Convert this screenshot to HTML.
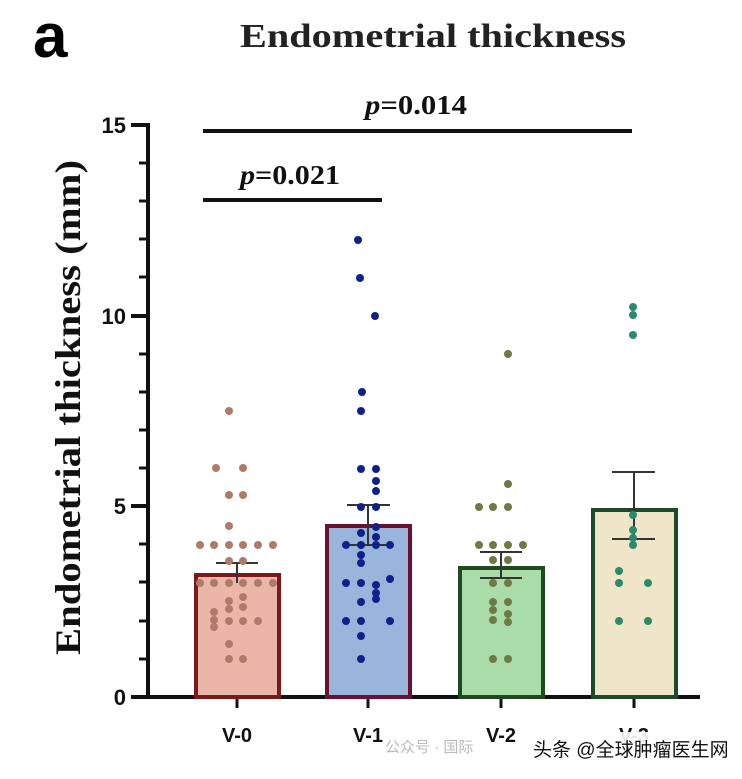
<!DOCTYPE html><html><head><meta charset="utf-8"><style>body{margin:0;background:#fff}</style></head><body>
<svg width="742" height="774" xmlns="http://www.w3.org/2000/svg">
<rect width="742" height="774" fill="#fff"/>
<text x="33" y="57" font-family="Liberation Sans" font-weight="bold" font-size="62">a</text>
<text x="240" y="47" textLength="386" lengthAdjust="spacingAndGlyphs" font-family="Liberation Serif" font-weight="bold" font-size="34" fill="#222">Endometrial thickness</text>
<text transform="translate(80,655) rotate(-90)" textLength="495" lengthAdjust="spacingAndGlyphs" font-family="Liberation Serif" font-weight="bold" font-size="36" fill="#111">Endometrial thickness (mm)</text>
<g stroke="#111" stroke-width="4">
<line x1="148" y1="123" x2="148" y2="699"/><line x1="146" y1="697" x2="700" y2="697"/>
<line x1="131" y1="125" x2="148" y2="125"/><line x1="131" y1="316" x2="148" y2="316"/><line x1="131" y1="506" x2="148" y2="506"/><line x1="131" y1="697" x2="148" y2="697"/>
</g>
<g stroke="#111" stroke-width="3">
<line x1="139" y1="163" x2="148" y2="163"/><line x1="139" y1="201" x2="148" y2="201"/><line x1="139" y1="239" x2="148" y2="239"/><line x1="139" y1="277" x2="148" y2="277"/>
<line x1="139" y1="354" x2="148" y2="354"/><line x1="139" y1="392" x2="148" y2="392"/><line x1="139" y1="430" x2="148" y2="430"/><line x1="139" y1="468" x2="148" y2="468"/>
<line x1="139" y1="544" x2="148" y2="544"/><line x1="139" y1="582" x2="148" y2="582"/><line x1="139" y1="621" x2="148" y2="621"/><line x1="139" y1="659" x2="148" y2="659"/>
<line x1="237" y1="697" x2="237" y2="708"/><line x1="368" y1="697" x2="368" y2="708"/><line x1="501" y1="697" x2="501" y2="708"/><line x1="634" y1="697" x2="634" y2="708"/>
</g>
<g font-family="Liberation Sans" font-weight="bold" font-size="22" text-anchor="end" fill="#111">
<text x="126" y="133">15</text><text x="126" y="324">10</text><text x="126" y="514">5</text><text x="126" y="705">0</text>
</g>
<g font-family="Liberation Sans" font-weight="bold" font-size="20" text-anchor="middle" fill="#111">
<text x="237" y="742">V-0</text><text x="368" y="742">V-1</text><text x="501" y="742">V-2</text><text x="634" y="742">V-3</text>
</g>
<g stroke-width="4">
<rect x="196" y="575" width="83" height="122" fill="#e9b6a9" stroke="#7a1a1a"/>
<rect x="327" y="526" width="83" height="171" fill="#9ab5dc" stroke="#6a1030"/>
<rect x="460" y="568" width="83" height="129" fill="#aadcaa" stroke="#1e4a1e"/>
<rect x="593" y="510" width="83" height="187" fill="#efe5c9" stroke="#1e4a2a"/>
</g>
<g stroke="#333" stroke-width="2">
<line x1="237" y1="563" x2="237" y2="583"/><line x1="216" y1="563" x2="258" y2="563"/>
<line x1="368" y1="505" x2="368" y2="545"/><line x1="347" y1="505" x2="390" y2="505"/><line x1="347" y1="545" x2="390" y2="545"/>
<line x1="501" y1="552" x2="501" y2="578"/><line x1="480" y1="552" x2="522" y2="552"/><line x1="480" y1="578" x2="522" y2="578"/>
<line x1="634" y1="472" x2="634" y2="539"/><line x1="612" y1="472" x2="655" y2="472"/><line x1="612" y1="539" x2="655" y2="539"/>
</g>
<g fill="#b07a68">
<circle cx="229" cy="411" r="4"/><circle cx="216" cy="468" r="4"/><circle cx="243" cy="468" r="4"/><circle cx="229" cy="495" r="4"/><circle cx="243" cy="495" r="4"/><circle cx="229" cy="526" r="4"/>
<circle cx="200" cy="545" r="4"/><circle cx="214" cy="545" r="4"/><circle cx="229" cy="545" r="4"/><circle cx="243" cy="545" r="4"/><circle cx="258" cy="545" r="4"/><circle cx="273" cy="545" r="4"/>
<circle cx="229" cy="561" r="4"/><circle cx="243" cy="561" r="4"/>
<circle cx="200" cy="583" r="4"/><circle cx="214" cy="583" r="4"/><circle cx="229" cy="583" r="4"/><circle cx="243" cy="583" r="4"/><circle cx="258" cy="583" r="4"/><circle cx="273" cy="583" r="4"/>
<circle cx="229" cy="601" r="4"/><circle cx="229" cy="609" r="4"/><circle cx="243" cy="597" r="4"/><circle cx="243" cy="607" r="4"/>
<circle cx="214" cy="612" r="4"/><circle cx="214" cy="620" r="4"/><circle cx="214" cy="627" r="4"/>
<circle cx="229" cy="621" r="4"/><circle cx="243" cy="621" r="4"/><circle cx="258" cy="621" r="4"/>
<circle cx="229" cy="644" r="4"/><circle cx="229" cy="659" r="4"/><circle cx="243" cy="659" r="4"/>
</g>
<g fill="#10208a">
<circle cx="358" cy="240" r="4"/><circle cx="360" cy="278" r="4"/><circle cx="375" cy="316" r="4"/><circle cx="362" cy="392" r="4"/>
<circle cx="361" cy="411" r="4"/><circle cx="361" cy="469" r="4"/><circle cx="376" cy="469" r="4"/><circle cx="376" cy="481" r="4"/><circle cx="376" cy="491" r="4"/>
<circle cx="361" cy="507" r="4"/><circle cx="376" cy="507" r="4"/><circle cx="376" cy="527" r="4"/><circle cx="376" cy="537" r="4"/><circle cx="361" cy="533" r="4"/>
<circle cx="346" cy="545" r="4"/><circle cx="361" cy="545" r="4"/><circle cx="376" cy="545" r="4"/><circle cx="390" cy="545" r="4"/>
<circle cx="361" cy="555" r="4"/><circle cx="361" cy="563" r="4"/>
<circle cx="346" cy="583" r="4"/><circle cx="361" cy="583" r="4"/><circle cx="376" cy="585" r="4"/><circle cx="390" cy="579" r="4"/><circle cx="376" cy="593" r="4"/><circle cx="376" cy="599" r="4"/>
<circle cx="361" cy="602" r="4"/><circle cx="346" cy="621" r="4"/><circle cx="361" cy="621" r="4"/><circle cx="390" cy="621" r="4"/>
<circle cx="361" cy="636" r="4"/><circle cx="361" cy="659" r="4"/>
</g>
<g fill="#6e7a44">
<circle cx="508" cy="354" r="4"/><circle cx="508" cy="484" r="4"/>
<circle cx="479" cy="507" r="4"/><circle cx="493" cy="507" r="4"/><circle cx="508" cy="507" r="4"/>
<circle cx="479" cy="545" r="4"/><circle cx="493" cy="545" r="4"/><circle cx="508" cy="545" r="4"/><circle cx="523" cy="545" r="4"/>
<circle cx="493" cy="560" r="4"/><circle cx="508" cy="560" r="4"/><circle cx="493" cy="583" r="4"/><circle cx="508" cy="583" r="4"/>
<circle cx="493" cy="602" r="4"/><circle cx="493" cy="610" r="4"/><circle cx="493" cy="620" r="4"/><circle cx="508" cy="602" r="4"/><circle cx="508" cy="614" r="4"/><circle cx="508" cy="622" r="4"/>
<circle cx="493" cy="659" r="4"/><circle cx="508" cy="659" r="4"/>
</g>
<g fill="#2a8a6a">
<circle cx="633" cy="307" r="4"/><circle cx="633" cy="315" r="4"/><circle cx="633" cy="335" r="4"/>
<circle cx="633" cy="515" r="4"/><circle cx="633" cy="530" r="4"/><circle cx="633" cy="538" r="4"/><circle cx="633" cy="545" r="4"/>
<circle cx="619" cy="571" r="4"/><circle cx="619" cy="583" r="4"/><circle cx="648" cy="583" r="4"/><circle cx="619" cy="621" r="4"/><circle cx="648" cy="621" r="4"/>
</g>
<g stroke="#111" stroke-width="4"><line x1="203" y1="131" x2="632" y2="131"/><line x1="203" y1="200" x2="382" y2="200"/></g>
<g font-family="Liberation Serif" font-weight="bold" font-size="27" fill="#111">
<text x="365" y="114" textLength="102" lengthAdjust="spacingAndGlyphs"><tspan font-style="italic">p</tspan>=0.014</text>
<text x="240" y="184" textLength="100" lengthAdjust="spacingAndGlyphs"><tspan font-style="italic">p</tspan>=0.021</text>
</g>
<text x="385" y="752" font-family="Liberation Sans, Noto Sans CJK SC, sans-serif" font-size="15" fill="#bbb">公众号 · 国际</text>
<rect x="528" y="732" width="205" height="34" rx="4" fill="#fff" opacity="0.9"/>
<text x="533" y="756" font-family="Liberation Sans, Noto Sans CJK SC, sans-serif" font-size="19" fill="#111">头条 @全球肿瘤医生网</text>
</svg>
</body></html>
